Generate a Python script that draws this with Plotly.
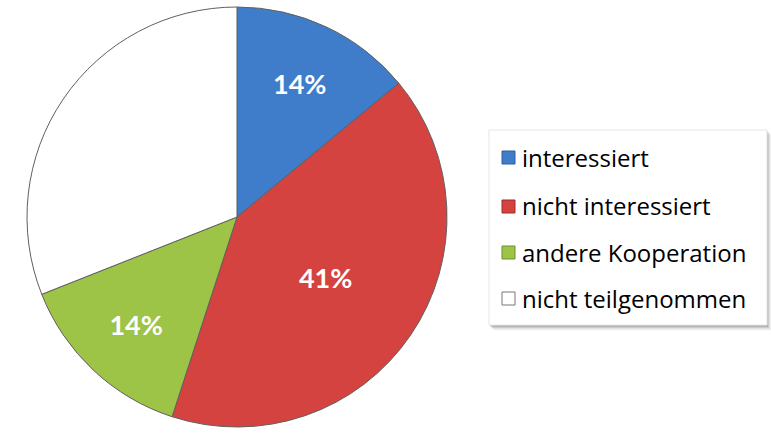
import plotly.graph_objects as go

labels = ["interessiert", "nicht interessiert", "andere Kooperation", "nicht teilgenommen"]
values = [14, 41, 14, 31]
colors = ["#3F7DCB", "#D54340", "#9DC447", "#FFFFFF"]
slice_text = ["<b>14%</b>", "<b>41%</b>", "<b>14%</b>", ""]

W, H = 771, 433

def px(x):
    return x / W

def py(y):
    return 1 - y / H

fig = go.Figure()
fig.add_trace(go.Pie(
    labels=labels,
    values=values,
    text=slice_text,
    texttemplate="%{text}",
    textposition="inside",
    insidetextorientation="horizontal",
    textfont=dict(family="Lato", size=27, color="white"),
    marker=dict(colors=colors, line=dict(color="#606060", width=1)),
    sort=False,
    direction="clockwise",
    rotation=0,
    showlegend=False,
    domain=dict(x=[px(27), px(447)], y=[py(427), py(7)]),
    hoverinfo="label+percent",
))

shapes = []
# legend shadow
for i, op in enumerate([0.12, 0.09, 0.06, 0.04, 0.02]):
    d = i + 1
    shapes.append(dict(type="rect", xref="paper", yref="paper",
                       x0=px(489 + d), x1=px(767 + d), y0=py(325 + d + 1), y1=py(130 + d),
                       line=dict(width=0), fillcolor=f"rgba(0,0,0,{op})", layer="below"))
shapes.append(dict(type="rect", xref="paper", yref="paper",
                   x0=px(489), x1=px(767), y0=py(325), y1=py(130),
                   line=dict(color="#E6E6E6", width=1), fillcolor="white", layer="below"))

annotations = []
row_y = [157, 206, 252, 298]
border = ["#2F5F9A", "#9A2E2C", "#6E8F2E", "#777777"]
for lab, col, b, yy in zip(labels, colors, border, row_y):
    shapes.append(dict(type="rect", xref="paper", yref="paper",
                       x0=px(502), x1=px(515), y0=py(yy + 7), y1=py(yy - 6),
                       line=dict(color=b, width=1), fillcolor=col))
    annotations.append(dict(xref="paper", yref="paper", x=px(520), y=py(yy),
                            xanchor="left", yanchor="middle", showarrow=False,
                            text=lab, font=dict(family="Open Sans", size=24, color="black")))

fig.update_layout(
    width=W, height=H,
    margin=dict(l=0, r=0, t=0, b=0),
    paper_bgcolor="white",
    plot_bgcolor="white",
    shapes=shapes,
    annotations=annotations,
)

fig.write_html("out.html", config={"displayModeBar": False},
               post_script="document.body.style.margin='0';document.body.style.padding='0';")
